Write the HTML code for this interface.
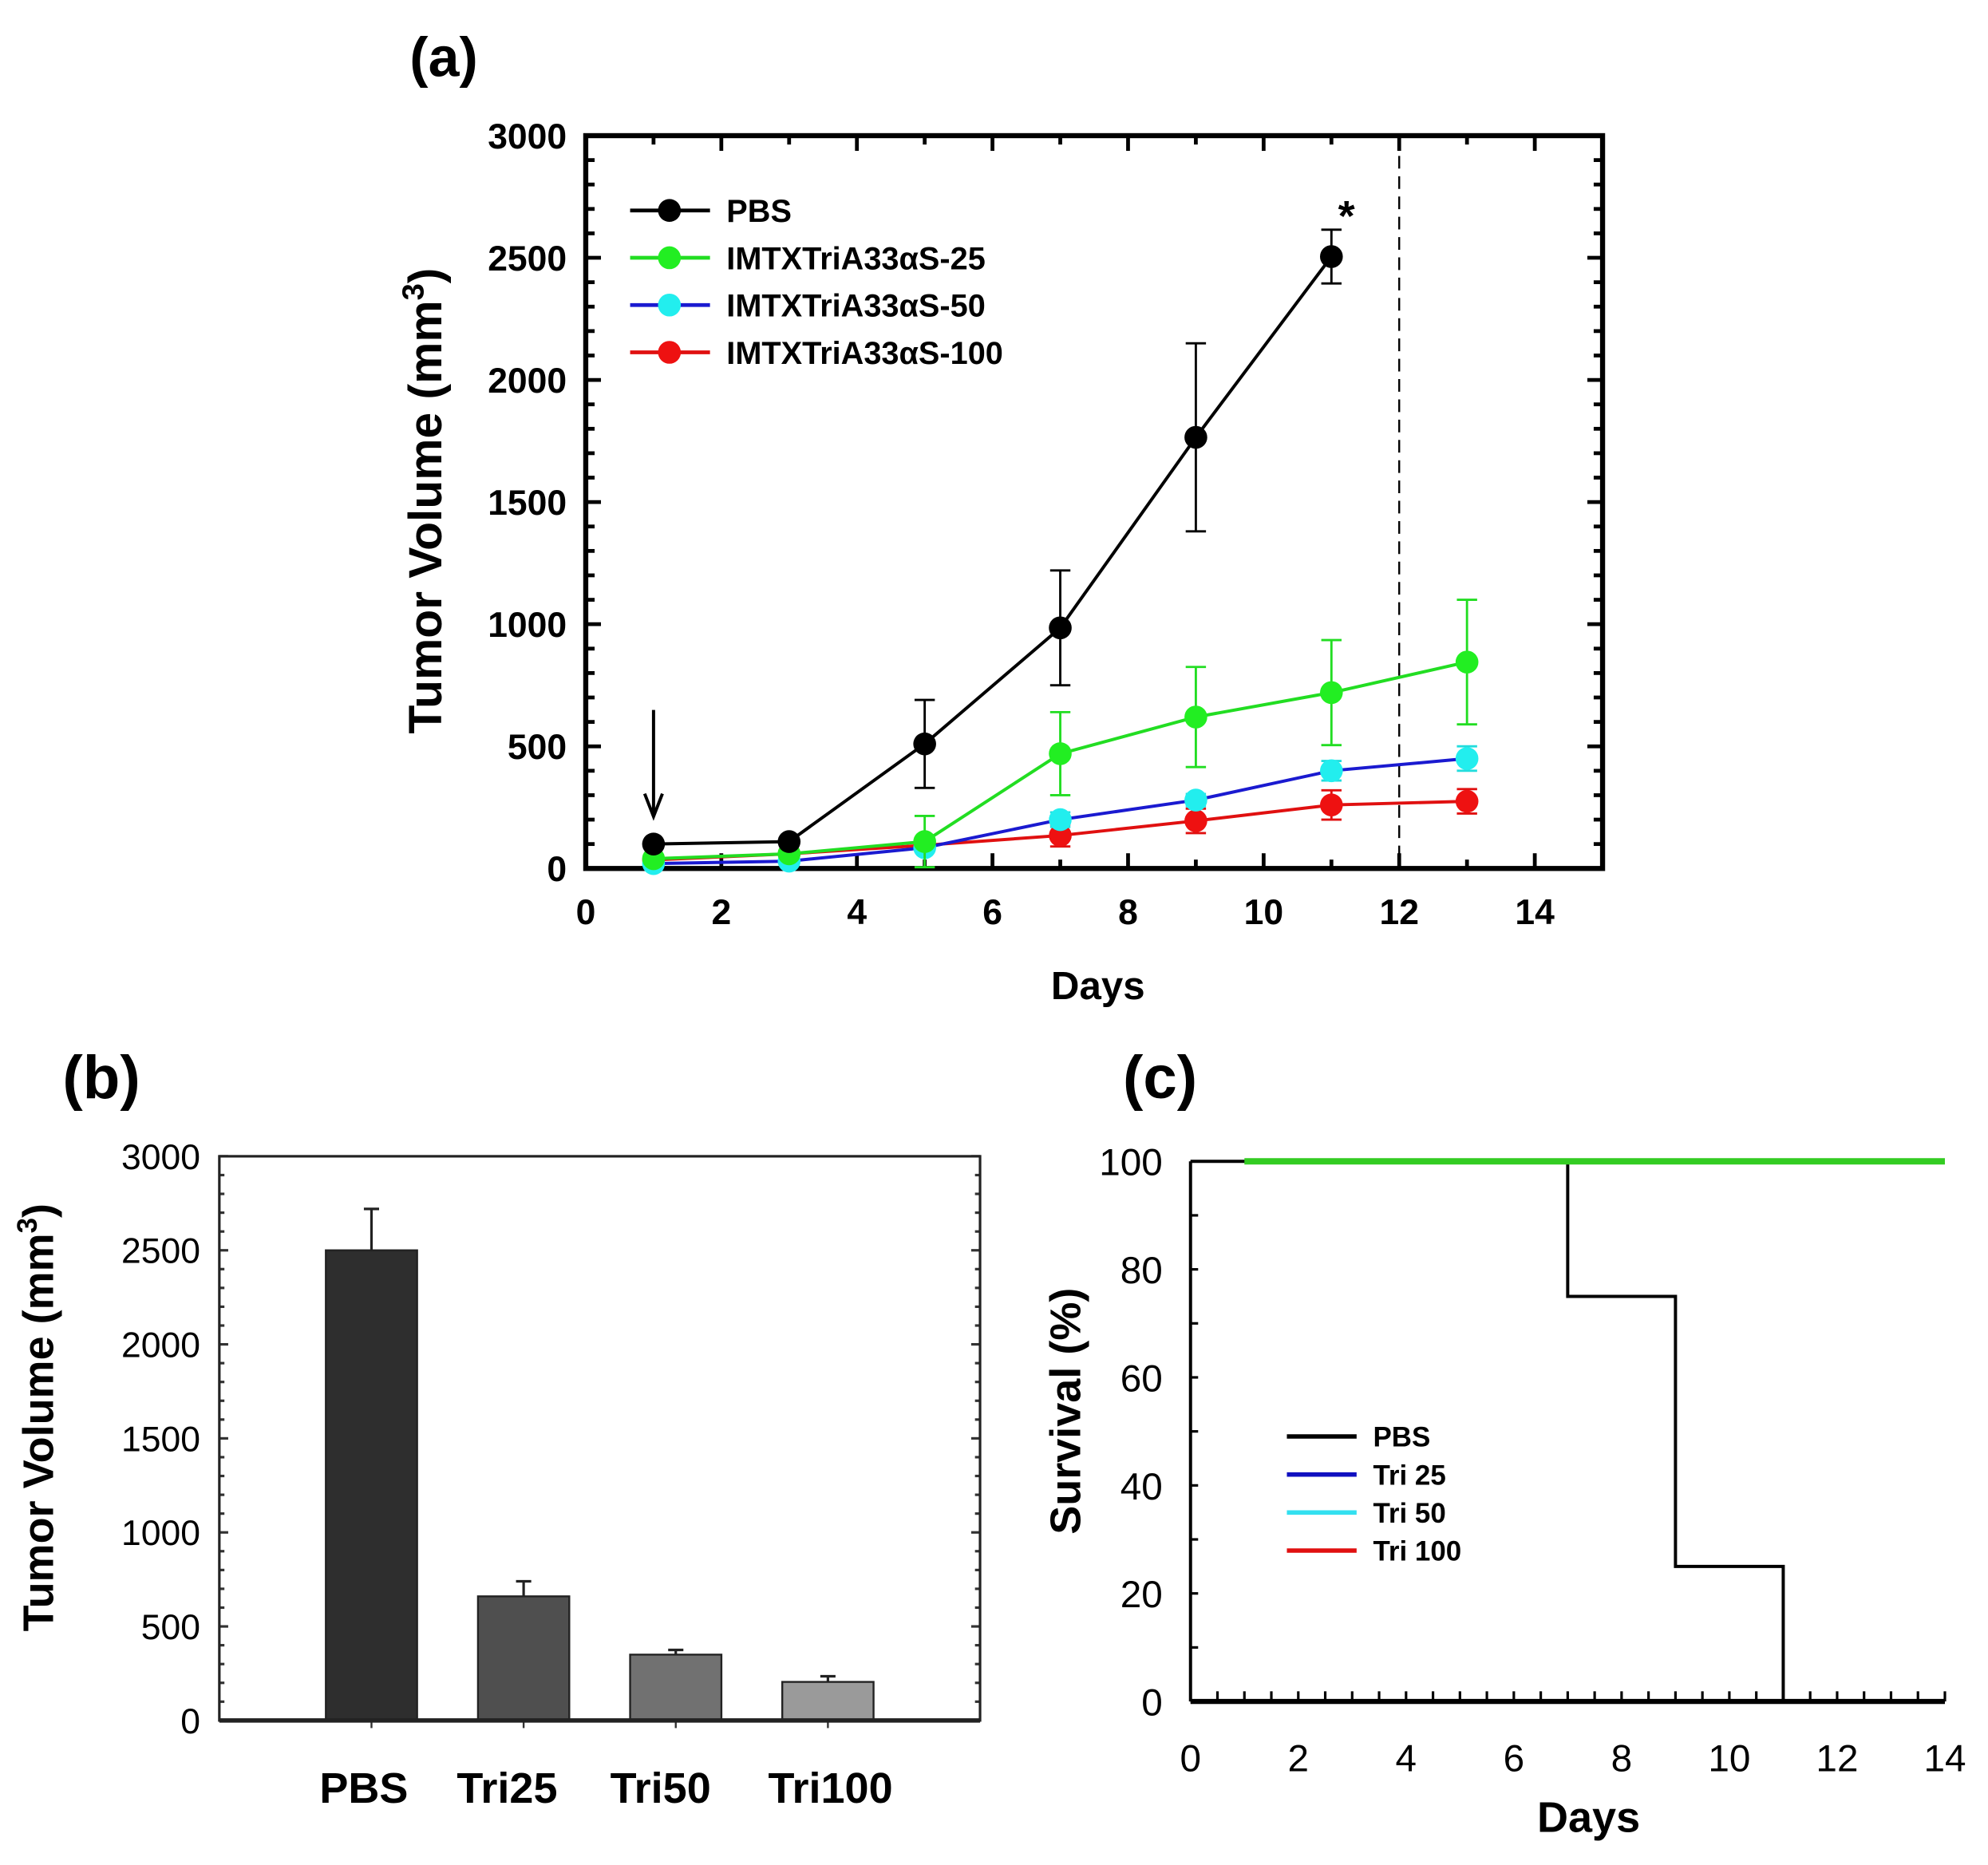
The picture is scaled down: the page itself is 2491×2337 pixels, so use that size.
<!DOCTYPE html>
<html><head><meta charset="utf-8"><style>
html,body{margin:0;padding:0;background:#fff;}
svg{display:block;}
text{font-family:"Liberation Sans",Arial,sans-serif;font-weight:bold;fill:#000;}
</style></head><body>
<svg id="fig" width="2491" height="2337" viewBox="0 0 1568 1471" preserveAspectRatio="none">
<g id="pa"></g>
<g id="pb"></g>
<g id="pc"></g>
</svg>
<script>
// ---- Panel (a) data ----
const aDays = [1,3,5,7,9,11,13];
const aPBS = [100,110,510,985,1765,2505];
const aPBSerr = [0,0,180,235,385,110];
const aT25 = [40,60,110,470,620,720,845];
const aT25err = [0,0,105,170,205,215,255];
const aT50 = [20,30,85,200,280,400,450];
const aT50err = [0,0,0,30,25,40,50];
const aT100 = [35,60,95,135,195,260,275];
const aT100err = [0,0,0,45,50,60,50];
const aXTicks = [0,2,4,6,8,10,12,14];
const aYTicks = [0,500,1000,1500,2000,2500,3000];
const aLegend = ["PBS","IMTXTriA33\u03b1S-25","IMTXTriA33\u03b1S-50","IMTXTriA33\u03b1S-100"];
// ---- Panel (b) data ----
const bCats = ["PBS","Tri25","Tri50","Tri100"];
const bVals = [2500,660,350,205];
const bErr = [220,80,25,30];
const bYTicks = [0,500,1000,1500,2000,2500,3000];
// ---- Panel (c) data ----
const cPBSdays = [0,7,7,9,9,11,11];
const cPBSsurv = [100,100,75,75,25,25,0];
const cTriDays = [1,14];
const cTriSurv = [100,100];
const cXTicks = [0,2,4,6,8,10,12,14];
const cYTicks = [0,20,40,60,80,100];
const cLegend = ["PBS","Tri 25","Tri 50","Tri 100"];

const NS="http://www.w3.org/2000/svg";
function mk(p,tag,at,txt){const e=document.createElementNS(NS,tag);for(const k in at)e.setAttribute(k,at[k]);if(txt!==undefined)e.textContent=txt;p.appendChild(e);return e;}

// ===== Panel A =====
(function(){
const g=document.getElementById('pa');
const L=462,R=1264,T=107,B=685;
const x=d=>L+d*(R-L)/15, y=v=>B-v*(B-T)/3000;
let t=mk(g,'text',{x:350,y:60,'font-size':44,'text-anchor':'middle'},'(a)');


for(let d=0;d<=15;d++){const big=d%2==0;const h=big?12:7;
 let e=mk(g,'line',{x1:x(d),x2:x(d),y1:B,y2:B-h,stroke:'#000','stroke-width':3});
 
 e=mk(g,'line',{x1:x(d),x2:x(d),y1:T,y2:T+h,stroke:'#000','stroke-width':3});
 }
for(let v=0;v<=3000;v+=100){const big=v%500==0;const h=big?12:7;
 let e=mk(g,'line',{x1:L,x2:L+h,y1:y(v),y2:y(v),stroke:'#000','stroke-width':3});
 
 e=mk(g,'line',{x1:R,x2:R-h,y1:y(v),y2:y(v),stroke:'#000','stroke-width':3});
 }
aXTicks.forEach(d=>{const e=mk(g,'text',{x:x(d),y:729,'font-size':28,'text-anchor':'middle'},String(d));
 });
aYTicks.forEach(v=>{const e=mk(g,'text',{x:447,y:y(v)+10,'font-size':28,'text-anchor':'end'},String(v));
 });
let f=mk(g,'rect',{x:L,y:T,width:R-L,height:B-T,fill:'none',stroke:'#000','stroke-width':4});

let yt=mk(g,'text',{x:0,y:0,'font-size':37,'text-anchor':'middle',transform:'translate(348,395) rotate(-90)'});
yt.innerHTML='Tumor Volume (mm<tspan dy="-14" font-size="24">3</tspan><tspan dy="14">)</tspan>';

let xt=mk(g,'text',{x:866,y:788,'font-size':31,'text-anchor':'middle'},'Days');

let dl=mk(g,'line',{x1:x(12),x2:x(12),y1:T,y2:B,stroke:'#000','stroke-width':1.5,'stroke-dasharray':'10,6'});

let ar=mk(g,'path',{d:`M${x(1)} 560 L${x(1)} 642 M${x(1)-7} 626 L${x(1)} 644 L${x(1)+7} 626`,stroke:'#000','stroke-width':2.5,fill:'none'});

const series=[
 {v:aPBS,e:aPBSerr,line:'#000',fill:'#000',name:'pbs'},
 {v:aT25,e:aT25err,line:'#22dd22',fill:'#22ee22',name:'tri25'},
 {v:aT50,e:aT50err,line:'#1a1ad0',fill:'#22eeee',name:'tri50'},
 {v:aT100,e:aT100err,line:'#e01010',fill:'#ee1111',name:'tri100'}];
series.slice().reverse().forEach(s=>{
 const sg=mk(g,'g',{});
 
 s.v.forEach((v,i)=>{if(s.e[i]>0){const c=x(aDays[i]);
  const eb=mk(sg,'path',{d:`M${c} ${y(v+s.e[i])} V${y(v-s.e[i])} M${c-8} ${y(v+s.e[i])} H${c+8} M${c-8} ${y(v-s.e[i])} H${c+8}`,stroke:s.name==='tri50'?'#22dddd':s.line,'stroke-width':1.8,fill:'none'});
  }});
 const pl=mk(sg,'polyline',{points:s.v.map((v,i)=>x(aDays[i])+','+y(v)).join(' '),fill:'none',stroke:s.line,'stroke-width':2.5});
 
 s.v.forEach((v,i)=>{const p=mk(sg,'circle',{cx:x(aDays[i]),cy:y(v),r:9,fill:s.fill});
  });
});
let st=mk(g,'text',{x:1062,y:182,'font-size':34,'text-anchor':'middle'},'*');

aLegend.forEach((lab,i)=>{const s=series[i];const yy=166+i*37.3;
 const lg=mk(g,'g',{});
 mk(lg,'line',{x1:497,x2:560,y1:yy,y2:yy,stroke:s.line,'stroke-width':3});
 mk(lg,'circle',{cx:528,cy:yy,r:9,fill:s.fill});
 mk(lg,'text',{x:573,y:yy+9,'font-size':25},lab);});
})();

// ===== Panel B =====
(function(){
const g=document.getElementById('pb');
const L=173,R=773,T=912,B=1357;
const y=v=>B-v*(B-T)/3000;
let t=mk(g,'text',{x:80,y:866,'font-size':48,'text-anchor':'middle'},'(b)');

for(let v=0;v<=3000;v+=100){const big=v%500==0;const h=big?7:4;
 let e=mk(g,'line',{x1:L,x2:L+h,y1:y(v),y2:y(v),stroke:'#333','stroke-width':2});
 
 e=mk(g,'line',{x1:R,x2:R-h,y1:y(v),y2:y(v),stroke:'#333','stroke-width':2});
 }
bYTicks.forEach(v=>{const e=mk(g,'text',{x:158,y:y(v)+10,'font-size':28,'text-anchor':'end',style:'font-weight:normal'},String(v));
 });
const cols=['#2e2e2e','#4f4f4f','#717171','#9a9a9a'];
const lx=[287,400,521,655];
bCats.forEach((c,i)=>{const cx=293+i*120;
 const eb=mk(g,'path',{d:`M${cx} ${y(bVals[i])} V${y(bVals[i]+bErr[i])} M${cx-6} ${y(bVals[i]+bErr[i])} H${cx+6}`,stroke:'#222','stroke-width':2});
 
 const r=mk(g,'rect',{x:cx-36,y:y(bVals[i]),width:72,height:B-y(bVals[i]),fill:cols[i],stroke:'#222','stroke-width':1.5});
 
 const tk=mk(g,'line',{x1:cx,x2:cx,y1:B,y2:B+6,stroke:'#333','stroke-width':1.5});
 
 const l=mk(g,'text',{x:lx[i],y:1422,'font-size':34,'text-anchor':'middle'},c);
 });
let f=mk(g,'rect',{x:L,y:T,width:R-L,height:B-T,fill:'none',stroke:'#222','stroke-width':2});

mk(g,'line',{x1:L,x2:R,y1:B,y2:B,stroke:'#222','stroke-width':3.5});
let yt=mk(g,'text',{x:0,y:0,'font-size':34,'text-anchor':'middle',transform:'translate(42,1118) rotate(-90)'});
yt.innerHTML='Tumor Volume (mm<tspan dy="-13" font-size="22">3</tspan><tspan dy="13">)</tspan>';

})();

// ===== Panel C =====
(function(){
const g=document.getElementById('pc');
const L=939,R=1534,T=916,B=1342;
const x=d=>L+d*(R-L)/14, y=v=>B-v*(B-T)/100;
let t=mk(g,'text',{x:915,y:866,'font-size':48,'text-anchor':'middle'},'(c)');

for(let d=0;d<=14;d+=0.5){const e=mk(g,'line',{x1:x(d),x2:x(d),y1:B,y2:B-8,stroke:'#000','stroke-width':2});
 }
for(let v=0;v<=100;v+=10){const e=mk(g,'line',{x1:L,x2:L+6,y1:y(v),y2:y(v),stroke:'#000','stroke-width':2});
 }
mk(g,'line',{x1:L,x2:L,y1:T,y2:B,stroke:'#000','stroke-width':2.5});
let xa=mk(g,'line',{x1:L,x2:R,y1:B,y2:B,stroke:'#000','stroke-width':4});

cXTicks.forEach(d=>{const e=mk(g,'text',{x:x(d),y:1397,'font-size':30,'text-anchor':'middle',style:'font-weight:normal'},String(d));
 });
cYTicks.forEach(v=>{const e=mk(g,'text',{x:917,y:y(v)+11,'font-size':30,'text-anchor':'end',style:'font-weight:normal'},String(v));
 });
let pbs=mk(g,'polyline',{points:cPBSdays.map((d,i)=>x(d)+','+y(cPBSsurv[i])).join(' '),fill:'none',stroke:'#000','stroke-width':2.5});

let tri=mk(g,'polyline',{points:cTriDays.map((d,i)=>x(d)+','+y(cTriSurv[i])).join(' '),fill:'none',stroke:'#33cc22','stroke-width':5});

const lc=['#000','#1010c0','#33e0f0','#e01010'];
cLegend.forEach((lab,i)=>{const yy=1133+i*30;
 const lg=mk(g,'g',{});
 mk(lg,'line',{x1:1015,x2:1070,y1:yy,y2:yy,stroke:lc[i],'stroke-width':3.5});
 mk(lg,'text',{x:1083,y:yy+8,'font-size':22},lab);});
let yt=mk(g,'text',{x:0,y:0,'font-size':34,'text-anchor':'middle',transform:'translate(852,1113) rotate(-90)'},'Survival (%)');

let xt=mk(g,'text',{x:1253,y:1445,'font-size':34,'text-anchor':'middle'},'Days');

})();
</script>
</body></html>
